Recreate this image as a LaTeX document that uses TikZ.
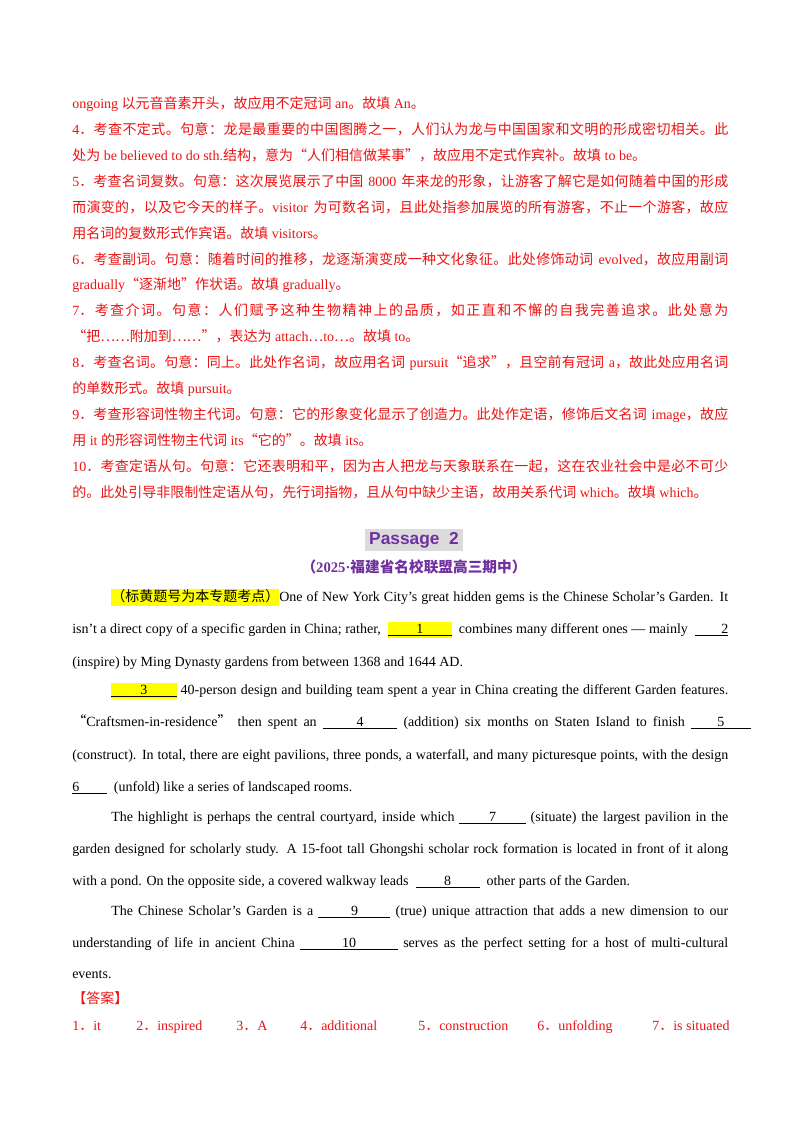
\documentclass[tikz,border=0pt]{standalone}
\usepackage{fontspec}
\setmainfont{Liberation Serif}
\setsansfont{Liberation Sans}
\newfontfamily\cjkfam{Noto Sans CJK SC}
\definecolor{ans}{RGB}{235,20,20}
\definecolor{pur}{RGB}{112,48,160}
\definecolor{hl}{RGB}{255,255,0}
\newXeTeXintercharclass\cjkclass
\makeatletter
\count@="3000 \loop\ifnum\count@<"3040 \XeTeXcharclass\count@=\cjkclass \advance\count@ 1 \repeat
\count@="4E00 \loop\ifnum\count@<"A000 \XeTeXcharclass\count@=\cjkclass \advance\count@ 1 \repeat
\count@="FF00 \loop\ifnum\count@<"FFF0 \XeTeXcharclass\count@=\cjkclass \advance\count@ 1 \repeat
\makeatother
\XeTeXcharclass"201C=\cjkclass
\XeTeXcharclass"201D=\cjkclass
\XeTeXcharclass"2026=\cjkclass
\XeTeXinterchartoks 0 \cjkclass = {\cjkfam}
\XeTeXinterchartoks 4095 \cjkclass = {\cjkfam}
\XeTeXinterchartoks \cjkclass 0 = {\rmfamily}
\XeTeXinterchartoks \cjkclass 4095 = {\rmfamily}
\XeTeXinterchartoks \cjkclass \cjkclass = {\hskip0pt plus 0.2pt}
\XeTeXinterchartokenstate=1
\newcommand\bl[2]{\underline{\makebox[#1]{#2}}}
\newcommand\hb[1]{{\setlength\fboxsep{0pt}\colorbox{hl}{\strut#1}}}
\newcommand\jl[3]{\node[txt] at (#2,#1) {\makebox[\dimexpr(728pt-#2pt)*3/4\relax][s]{#3}};}
\newcommand\nl[3]{\node[txt] at (#2,#1) {#3};}
\begin{document}
\begin{tikzpicture}[x=0.75pt,y=-0.75pt,
  txt/.style={anchor=base west,inner sep=0pt,font=\fontsize{10.5}{12}\selectfont}]
\useasboundingbox[fill=white] (0,0) rectangle (800,1132);
\begin{scope}[every node/.append style={text=ans}]
\nl{108}{72}{ongoing 以元音音素开头，故应用不定冠词 an。故填 An。}
\jl{134}{72}{4．考查不定式。句意：龙是最重要的中国图腾之一，人们认为龙与中国国家和文明的形成密切相关。此}
\nl{160}{72}{处为 be believed to do sth.结构，意为“人们相信做某事”，故应用不定式作宾补。故填 to be。}
\jl{186}{72}{5．考查名词复数。句意：这次展览展示了中国 8000 年来龙的形象，让游客了解它是如何随着中国的形成}
\jl{212}{72}{而演变的，以及它今天的样子。visitor 为可数名词，且此处指参加展览的所有游客，不止一个游客，故应}
\nl{238}{72}{用名词的复数形式作宾语。故填 visitors。}
\jl{264}{72}{6．考查副词。句意：随着时间的推移，龙逐渐演变成一种文化象征。此处修饰动词 evolved，故应用副词}
\nl{289}{72}{gradually“逐渐地”作状语。故填 gradually。}
\jl{315}{72}{7．考查介词。句意：人们赋予这种生物精神上的品质，如正直和不懈的自我完善追求。此处意为}
\nl{341}{72}{“把……附加到……”，表达为 attach…to…。故填 to。}
\jl{367}{72}{8．考查名词。句意：同上。此处作名词，故应用名词 pursuit“追求”，且空前有冠词 a，故此处应用名词}
\nl{393}{72}{的单数形式。故填 pursuit。}
\jl{419}{72}{9．考查形容词性物主代词。句意：它的形象变化显示了创造力。此处作定语，修饰后文名词 image，故应}
\nl{445}{72}{用 it 的形容词性物主代词 its“它的”。故填 its。}
\jl{471}{72}{10．考查定语从句。句意：它还表明和平，因为古人把龙与天象联系在一起，这在农业社会中是必不可少}
\nl{497}{72}{的。此处引导非限制性定语从句，先行词指物，且从句中缺少主语，故用关系代词 which。故填 which。}
\end{scope}
\node[fill=black!14,inner xsep=3pt,inner ysep=2pt,text=pur,font=\sffamily\bfseries\fontsize{13}{15}\selectfont] (p2) at (414,540) {Passage\ \ 2};
\node[text=pur,font=\bfseries\fontsize{11}{13}\selectfont] (src) at (414,567) {（2025·福建省名校联盟高三期中）};
\jl{601}{111}{\hb{（标黄题号为本专题考点）}One of New York City’s great hidden gems is the Chinese Scholar’s Garden. It}
\jl{633}{72}{isn’t a direct copy of a specific garden in China; rather,\ \ \hb{\bl{48pt}{1}}\ \ combines many different ones — mainly\ \ \bl{25pt}{\hfill2}}
\nl{666}{72}{(inspire) by Ming Dynasty gardens from between 1368 and 1644 AD.}
\jl{694}{111}{\hb{\bl{49pt}{3}} 40-person design and building team spent a year in China creating the different Garden features.}
\node[txt] at (72,726) {\makebox[509pt][s]{“Craftsmen-in-residence” then spent an \bl{56pt}{4} (addition) six months on Staten Island to finish \bl{45pt}{5}}};
\jl{759}{72}{(construct). In total, there are eight pavilions, three ponds, a waterfall, and many picturesque points, with the design}
\nl{791}{72}{\bl{26pt}{6\hfill}\ \ (unfold) like a series of landscaped rooms.}
\jl{821}{111}{The highlight is perhaps the central courtyard, inside which \bl{50pt}{7} (situate) the largest pavilion in the}
\jl{853}{72}{garden designed for scholarly study. A 15-foot tall Ghongshi scholar rock formation is located in front of it along}
\nl{885}{72}{with a pond. On the opposite side, a covered walkway leads\ \ \bl{48pt}{8}\ \ other parts of the Garden.}
\jl{915}{111}{The Chinese Scholar’s Garden is a \bl{54pt}{9} (true) unique attraction that adds a new dimension to our}
\jl{947}{72}{understanding of life in ancient China \bl{73pt}{10} serves as the perfect setting for a host of multi-cultural}
\nl{978}{72}{events.}
\nl{1003}{72}{\color{ans}【答案】}
\begin{scope}[every node/.append style={text=ans}]
\nl{1030}{72}{1．it}
\nl{1030}{136}{2．inspired}
\nl{1030}{236}{3．A}
\nl{1030}{300}{4．additional}
\nl{1030}{418}{5．construction}
\nl{1030}{537}{6．unfolding}
\nl{1030}{652}{7．is situated}
\end{scope}
\end{tikzpicture}
\end{document}
